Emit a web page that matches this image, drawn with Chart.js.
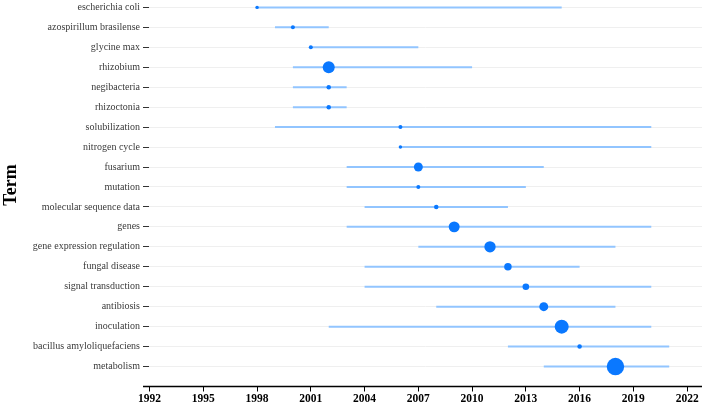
<!DOCTYPE html>
<html>
<head>
<meta charset="utf-8">
<script src="https://cdn.jsdelivr.net/npm/chart.js@4.4.1/dist/chart.umd.min.js"></script>
<style>
  html, body { margin: 0; padding: 0; background: #ffffff; overflow: hidden; }
  #wrap { width: 708px; height: 408px; position: relative; }
  canvas { display: block; }
</style>
</head>
<body>
<div id="wrap"><canvas id="c" width="708" height="408" style="width:708px;height:408px"></canvas></div>
<script>
// ---- data ----
const terms = [
  "escherichia coli", "azospirillum brasilense", "glycine max", "rhizobium",
  "negibacteria", "rhizoctonia", "solubilization", "nitrogen cycle",
  "fusarium", "mutation", "molecular sequence data", "genes",
  "gene expression regulation", "fungal disease", "signal transduction",
  "antibiosis", "inoculation", "bacillus amyloliquefaciens", "metabolism"
];
const yearStart  = [1998, 1999, 2001, 2000, 2000, 2000, 1999, 2006, 2003, 2003, 2004, 2003, 2007, 2004, 2004, 2008, 2002, 2012, 2014];
const yearMedian = [1998, 2000, 2001, 2002, 2002, 2002, 2006, 2006, 2007, 2007, 2008, 2009, 2011, 2012, 2013, 2014, 2015, 2016, 2018];
const yearEnd    = [2015, 2002, 2007, 2010, 2003, 2003, 2020, 2020, 2014, 2013, 2012, 2020, 2018, 2016, 2020, 2018, 2020, 2021, 2021];
const termFreq   = [3, 4, 4, 36, 5, 5, 4, 3, 20, 4, 5, 30, 32, 14, 11, 20, 49, 5, 76];
const yearTicks  = [1992, 1995, 1998, 2001, 2004, 2007, 2010, 2013, 2016, 2019, 2022];
const axisTitle  = "Term";

// ---- build datasets ----
const segData = [];
terms.forEach((t, i) => {
  segData.push({ x: yearStart[i], y: i });
  segData.push({ x: yearEnd[i], y: i });
  segData.push({ x: null, y: null });
});
const pointData = terms.map((t, i) => ({ x: yearMedian[i], y: i, r: Math.sqrt(termFreq[i]) }));

const titlePlugin = {
  id: 'extras',
  afterDraw(chart) {
    const ctx = chart.ctx;
    const area = chart.chartArea;
    ctx.save();
    // x axis line
    ctx.strokeStyle = '#000000';
    ctx.lineWidth = 1.5;
    ctx.beginPath();
    ctx.moveTo(143, area.bottom);
    ctx.lineTo(area.right, area.bottom);
    ctx.stroke();
    // y axis title
    ctx.fillStyle = '#000000';
    ctx.font = 'bold 18px "Liberation Serif", "Times New Roman", serif';
    ctx.translate(16, 185);
    ctx.rotate(-Math.PI / 2);
    ctx.textAlign = 'center';
    ctx.textBaseline = 'alphabetic';
    ctx.fillText(axisTitle, 0, 0);
    ctx.restore();
  }
};

new Chart(document.getElementById('c'), {
  type: 'scatter',
  data: {
    datasets: [
      {
        type: 'scatter',
        label: 'range',
        data: segData,
        showLine: true,
        spanGaps: false,
        borderColor: '#92c5ff',
        borderWidth: 2,
        pointRadius: 0,
        pointHoverRadius: 0,
        clip: false,
        order: 2
      },
      {
        type: 'bubble',
        label: 'median',
        data: pointData,
        backgroundColor: '#0a78ff',
        borderColor: '#0a78ff',
        borderWidth: 0,
        clip: false,
        order: 1
      }
    ]
  },
  options: {
    responsive: false,
    animation: false,
    devicePixelRatio: 1,
    layout: { autoPadding: false, padding: { left: 0, right: 6, top: 0, bottom: 0 } },
    plugins: { legend: { display: false }, tooltip: { enabled: false } },
    scales: {
      x: {
        type: 'linear',
        position: 'bottom',
        min: 1991.97,
        max: 2022.83,
        afterBuildTicks: (s) => { s.ticks = yearTicks.map(v => ({ value: v })); },
        afterFit: (s) => { s.height = 21.5; s.paddingLeft = 0; s.paddingRight = 0; },
        grid: {
          display: true,
          drawOnChartArea: false,
          drawTicks: true,
          tickLength: 5,
          tickColor: '#000000',
          tickWidth: 1
        },
        border: { display: false },
        ticks: {
          autoSkip: false,
          maxRotation: 0,
          padding: 1,
          color: '#000000',
          font: { family: '"Liberation Serif", "Times New Roman", serif', size: 11.5, weight: 'bold' },
          callback: (v) => String(v)
        }
      },
      y: {
        type: 'linear',
        reverse: true,
        min: -0.37,
        max: 19.0,
        afterBuildTicks: (s) => { s.ticks = terms.map((t, i) => ({ value: i })); },
        afterFit: (s) => { s.width = 149; s.paddingTop = 0; s.paddingBottom = 0; },
        grid: {
          display: true,
          drawOnChartArea: true,
          color: '#efefef',
          lineWidth: 1,
          drawTicks: true,
          tickLength: 6,
          tickColor: '#333333',
          tickWidth: 1
        },
        border: { display: false },
        ticks: {
          autoSkip: false,
          padding: 3,
          color: '#3a3a3a',
          font: { family: '"Liberation Serif", "Times New Roman", serif', size: 10 },
          callback: (v) => terms[v] !== undefined ? terms[v] : ''
        }
      }
    }
  },
  plugins: [titlePlugin]
});
</script>
</body>
</html>
